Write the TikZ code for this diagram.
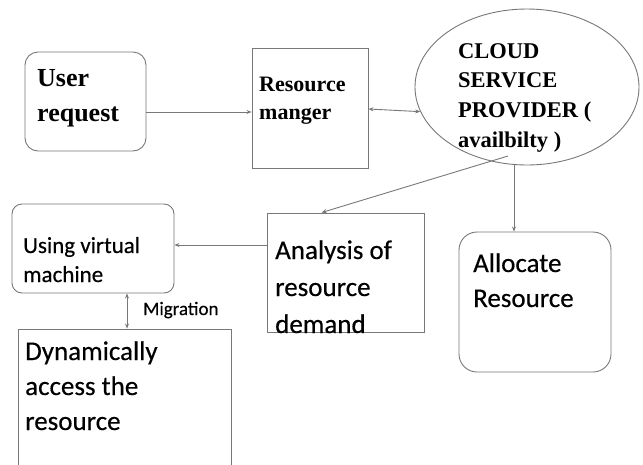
\documentclass[tikz,border=0pt]{standalone}
\usepackage{fontspec}
\usetikzlibrary{arrows.meta,calc,shapes.geometric}
\newfontfamily\headserif{Liberation Serif}
\newfontfamily\bodysans{Carlito}[FakeBold=0.4]
% several lines of text whose baseline is that of the first line
\newcommand\txtlines[1]{\begin{tabular}[t]{@{}l@{}}#1\end{tabular}}
\definecolor{linegray}{RGB}{120,120,120}
\tikzset{
  boxline/.style={draw=linegray, line width=0.9pt},
  sqbox/.style={boxline, rectangle, inner sep=0pt},
  rndbox/.style={sqbox, rounded corners=#1},
  rndbox/.default=12pt,
  label text/.style={anchor=base west, inner sep=0pt, text=black},
  conn/.style={draw=linegray, line width=0.9pt, -{Stealth[length=5pt,width=4pt]}},
  biconn/.style={draw=linegray, line width=0.9pt, {Stealth[length=5pt,width=4pt]}-{Stealth[length=5pt,width=4pt]}},
}
\begin{document}
\begin{tikzpicture}[x=1pt,y=-1pt]
\useasboundingbox (0,0) rectangle (643,464);
\clip (0,0) rectangle (643,464);

% boxes
\node[rndbox=13pt, minimum width=121pt, minimum height=99pt] (user) at (85.5,101.5) {};
\node[sqbox, minimum width=116pt, minimum height=120pt] (rm) at (310,108) {};
\node[boxline, ellipse, inner sep=0pt, minimum width=224pt, minimum height=156pt] (cloud) at (527,87) {};
\node[rndbox=10pt, minimum width=162pt, minimum height=89pt] (vm) at (93,248.5) {};
\node[sqbox, minimum width=157pt, minimum height=119pt] (ana) at (345.5,272.5) {};
\node[rndbox=18pt, minimum width=152pt, minimum height=140pt] (alloc) at (535,302) {};
\node[sqbox, minimum width=213pt, minimum height=171pt] (dyn) at (124.5,414.5) {};

% texts
\node[label text, font=\headserif\bfseries\fontsize{26}{35}\selectfont] (usertxt) at (37,86.7) {\txtlines{User\\request}};
\node[label text, font=\headserif\bfseries\fontsize{22}{28}\selectfont] (rmtxt) at (259,91) {\txtlines{Resource\\manger}};
\node[label text, font=\headserif\bfseries\fontsize{22.5}{29.7}\selectfont] (cloudtxt) at (458,58) {\txtlines{CLOUD\\SERVICE\\PROVIDER (\\availbilty )}};
\node[label text, font=\bodysans\fontsize{23}{29}\selectfont] (vmtxt) at (23,253) {\txtlines{Using virtual\\machine}};
\node[label text, font=\bodysans\fontsize{27}{37}\selectfont] (anatxt) at (275,259) {\txtlines{Analysis of\\resource\\demand}};
\node[label text, font=\bodysans\fontsize{27}{35}\selectfont] (alloctxt) at (473,272) {\txtlines{Allocate\\Resource}};
\node[label text, font=\bodysans\fontsize{27}{35}\selectfont] (dyntxt) at (25,360) {\txtlines{Dynamically\\access the\\resource}};
\node[label text, font=\bodysans\fontsize{19}{23}\selectfont] (migtxt) at (143,315) {Migration};

% connectors
\draw[conn] (user.east |- 0,112) -- (rm.west |- 0,112);
\draw[biconn] (rm.east |- 0,109) -- (cloud.193);
\draw[conn] ($(cloud.center)+(-19,69)$) -- ($(ana.north west)+(55,0)$);
\draw[conn] (514,0 |- cloud.south) -- (514,0 |- alloc.north);
\draw[conn] (ana.west |- 0,245) -- (vm.east |- 0,245);
\draw[biconn] (127,0 |- vm.south) -- (127,0 |- dyn.north);
\end{tikzpicture}
\end{document}
